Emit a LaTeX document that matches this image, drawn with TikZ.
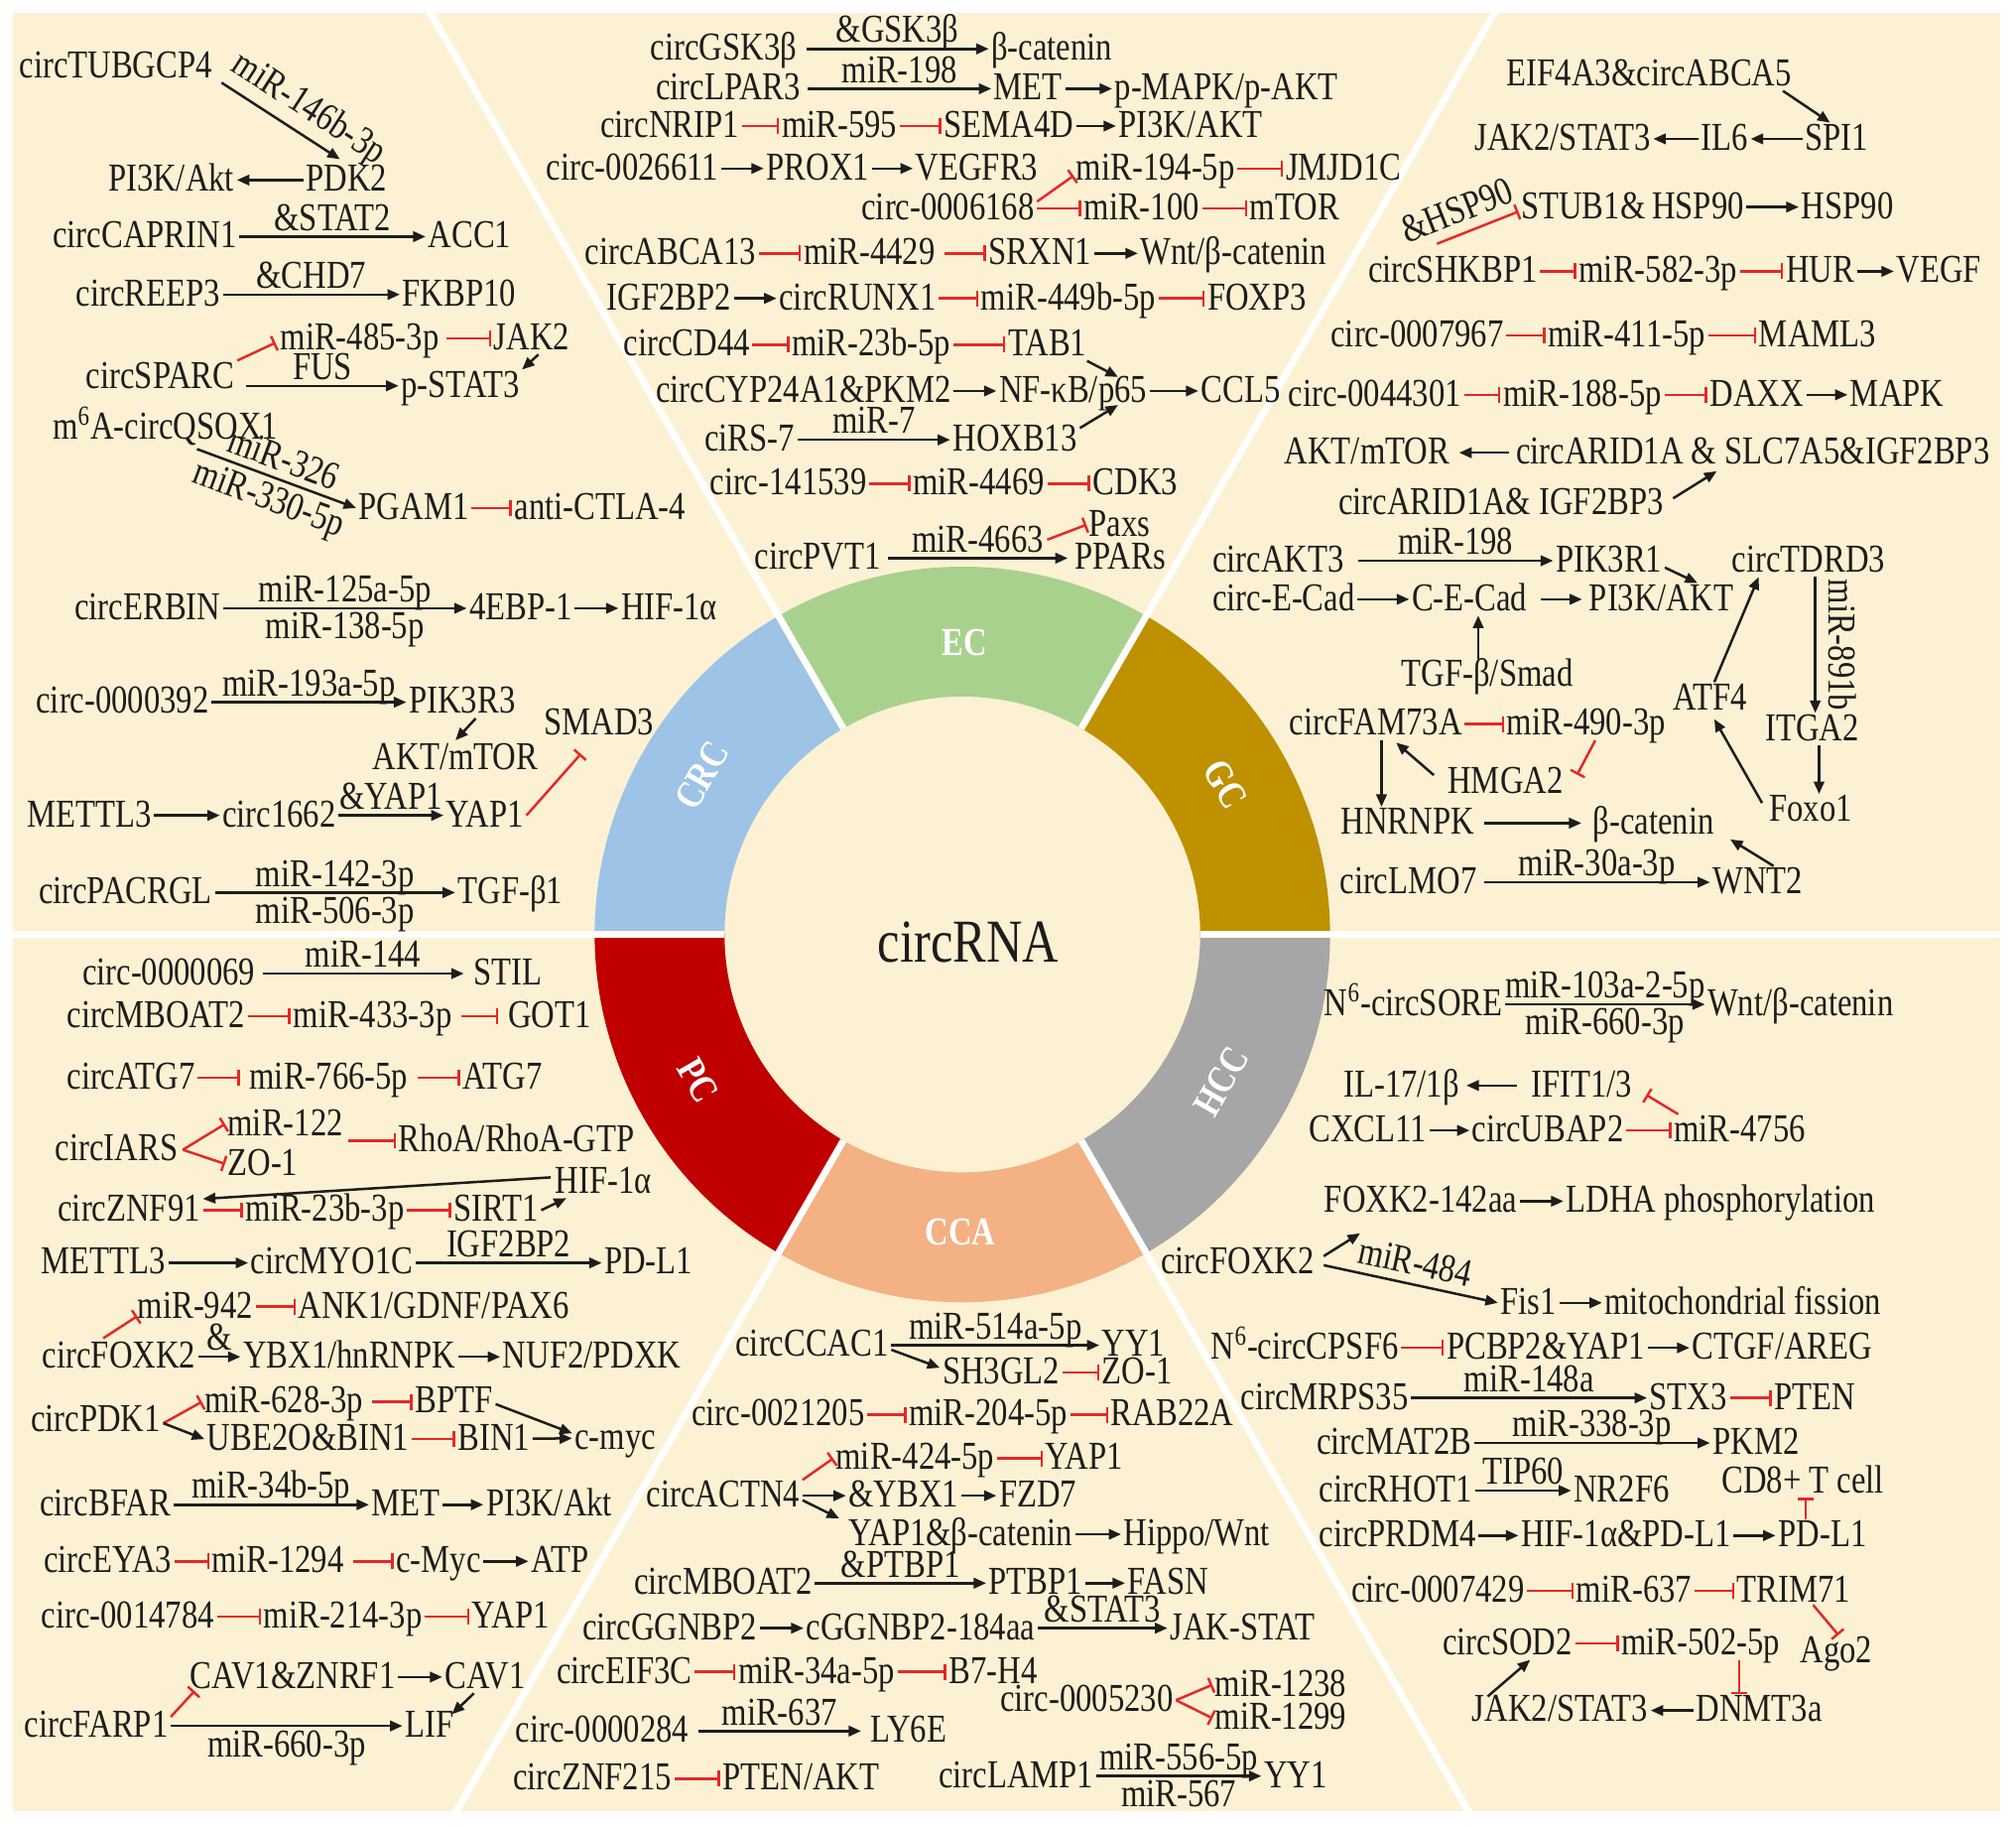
\documentclass[tikz,border=0pt]{standalone}
\usepackage{fontspec}
\setmainfont{Liberation Serif}[FakeStretch=0.82]
\usetikzlibrary{arrows.meta,calc}
\definecolor{cream}{RGB}{252,242,211}
\definecolor{crc}{RGB}{157,195,230}
\definecolor{ecg}{RGB}{169,209,142}
\definecolor{gcc}{RGB}{191,144,0}
\definecolor{hcc}{RGB}{166,166,166}
\definecolor{cca}{RGB}{244,177,131}
\definecolor{pcc}{RGB}{192,0,0}
\definecolor{inhred}{RGB}{230,40,40}
\definecolor{ink}{RGB}{30,28,28}
\newcommand{\fs}{\fontsize{17.5}{20}\selectfont}
\newcommand{\TN}[3]{\node[txt] (#1) at (#2) {#3};}
\begin{document}
\begin{tikzpicture}[x=0.02cm, y=-0.02cm,
  txt/.style={font=\fs, text=ink, anchor=west, inner xsep=1pt, inner ysep=0pt, text height=12pt, text depth=2pt},
  lab/.style={font=\fs, text=ink, inner xsep=1pt, inner ysep=1.2pt, text height=11.8pt, text depth=1pt},
  arw/.style={draw=ink, line width=1.1pt, -{Triangle[length=5.5pt,width=4.6pt]}},
  inhb/.style={draw=inhred, line width=1.1pt, -{Bar[width=7pt,line width=1.1pt]}},
  seg/.style={font=\fs\bfseries, text=white, inner sep=0pt}]
\useasboundingbox (0,0) rectangle (1568,1420);
\fill[white] (0,0) rectangle (1568,1420);
\fill[cream] (10,10) rectangle (1556,1408);
% ring
\begin{scope}[shift={(748.5,726.6)}, y=0.02cm]
  \foreach \a/\b/\c in {0/60/gcc, 60/120/ecg, 120/180/crc, 180/240/pcc, 240/300/cca, 300/360/hcc}
    \fill[\c] (\a:286) arc[start angle=\a, end angle=\b, radius=286] -- (\b:185) arc[start angle=\b, end angle=\a, radius=185] -- cycle;
  \foreach \a in {0,60,120,180,240,300}
    \draw[white, line width=3pt] (\a:185) -- (\a:1000);
\end{scope}
\node[seg, rotate=60] (tcrc) at (546,603) {CRC};
\node[seg] (tec) at (750,500) {EC};
\node[seg, rotate=-60] (tgc) at (953,610) {GC};
\node[seg, rotate=-60] (tpc) at (543,840) {PC};
\node[seg, rotate=60] (thcc) at (950,841) {HCC};
\node[seg] (tcca) at (747,958) {CCA};
\node[font=\fontsize{27}{30}\selectfont, text=ink, inner sep=0pt] (crna) at (753,733) {circRNA};

% ---------------- CRC ----------------
\TN{tub}{13,52}{circTUBGCP4}
\TN{pdk2}{236,140}{PDK2}
\TN{pi3ka}{82,140}{PI3K/Akt}
\draw[arw] ([xshift=3pt,yshift=-7pt]tub.east) -- node[lab,sloped,above=4pt,pos=0.62] (l1) {miR-146b-3p} ([xshift=-3pt,yshift=2pt]pdk2.north);
\draw[arw] (pdk2) -- (pi3ka);
\TN{capr}{39,184}{circCAPRIN1}
\TN{acc1}{331,184}{ACC1}
\draw[arw] (capr) -- node[lab,above] (l2) {\&STAT2} (acc1);
\TN{reep}{57,229}{circREEP3}
\TN{fkbp}{311,229}{FKBP10}
\draw[arw] (reep) -- node[lab,above] (l3) {\&CHD7} (fkbp);
\TN{m485}{216,263}{miR-485-3p}
\TN{jak2a}{382,263}{JAK2}
\draw[inhb] ([xshift=2pt]m485.east) -- (jak2a);
\TN{sparc}{65,293}{circSPARC}
\draw[inhb] (sparc.north east) -- ([xshift=-1pt,yshift=-2pt]m485.west);
\TN{pstat}{310,300}{p-STAT3}
\path ([xshift=4pt]sparc.east) coordinate (sp0);
\draw[arw] (sp0 |- pstat.west) -- node[lab,above] (l4) {FUS} (pstat);
\draw[arw] ([xshift=3pt]jak2a.south) -- (pstat.north east);
\TN{qsox}{39,333}{m\textsuperscript{6}A-circQSOX1}
\TN{pgam}{277,395}{PGAM1}
\TN{ctla}{398,395}{anti-CTLA-4}
\draw[arw] ([xshift=14pt,yshift=-2pt]qsox.south) -- node[lab,sloped,above=1pt] (l5) {miR-326} node[lab,sloped,below=1pt] (l6) {miR-330-5p} (pgam.west);
\draw[inhb] (pgam) -- (ctla);
\TN{erbin}{56,473}{circERBIN}
\TN{ebp}{363,473}{4EBP-1}
\TN{hif1}{481,473}{HIF-1α}
\draw[arw] (erbin) -- node[lab,above] (l7) {miR-125a-5p} node[lab,below] (l8) {miR-138-5p} (ebp);
\draw[arw] (ebp) -- (hif1);
\TN{c392}{26,546}{circ-0000392}
\TN{pik3r3}{316,546}{PIK3R3}
\draw[arw] (c392) -- node[lab,above] (l9) {miR-193a-5p} (pik3r3);
\TN{aktm}{288,590}{AKT/mTOR}
\draw[arw] ([xshift=6pt]pik3r3.south) -- ([yshift=1pt]aktm.north);
\TN{smad}{421,563}{SMAD3}
\TN{mett1}{19,634}{METTL3}
\TN{c1662}{171,634}{circ1662}
\TN{yap1a}{345,634}{YAP1}
\draw[arw] (mett1) -- (c1662);
\draw[arw] (c1662) -- node[lab,above] (l10) {\&YAP1} (yap1a);
\draw[inhb] (yap1a.east) -- ([xshift=-8pt,yshift=-6pt]smad.south);
\TN{pacr}{28,694}{circPACRGL}
\TN{tgfb1}{354,694}{TGF-β1}
\draw[arw] (pacr) -- node[lab,above] (l11) {miR-142-3p} node[lab,below] (l12) {miR-506-3p} (tgfb1);

% ---------------- EC ----------------
\TN{gsk}{504,38}{circGSK3β}
\TN{bcat1}{769,38}{β-catenin}
\draw[arw] ([xshift=3pt]gsk.east) -- node[lab,above] (l13) {\&GSK3β} (bcat1);
\TN{lpar}{508,69}{circLPAR3}
\TN{met1}{771,69}{MET}
\TN{pmapk}{865,69}{p-MAPK/p-AKT}
\draw[arw] ([xshift=2pt]lpar.east) -- node[lab,above] (l14) {miR-198} (met1);
\draw[arw] (met1) -- (pmapk);
\TN{nrip}{465,98}{circNRIP1}
\TN{m595}{606,98}{miR-595}
\TN{sema}{732,98}{SEMA4D}
\TN{pi3k1}{868,98}{PI3K/AKT}
\draw[inhb] (nrip) -- (m595);
\draw[inhb] (m595) -- (sema);
\draw[arw] (sema) -- (pi3k1);
\TN{c6611}{423,131}{circ-0026611}
\TN{prox}{594,131}{PROX1}
\TN{vegfr}{710,131}{VEGFR3}
\draw[arw] (c6611) -- (prox);
\draw[arw] (prox) -- (vegfr);
\TN{m194}{835,131}{miR-194-5p}
\TN{jmjd}{998,131}{JMJD1C}
\draw[inhb] (m194) -- (jmjd);
\TN{c6168}{668,162}{circ-0006168}
\TN{m100}{841,162}{miR-100}
\TN{mtor1}{970,162}{mTOR}
\draw[inhb] (c6168) -- (m100);
\draw[inhb] (m100) -- (mtor1);
\draw[inhb] ([yshift=3pt]c6168.east) -- ([yshift=4pt]m194.south west);
\TN{abca13}{453,197}{circABCA13}
\TN{m4429}{623,197}{miR-4429}
\TN{srxn}{767,197}{SRXN1}
\TN{wnt1}{885,197}{Wnt/β-catenin}
\draw[inhb] (abca13) -- (m4429);
\draw[inhb] ([xshift=3pt]m4429.east) -- (srxn);
\draw[arw] (srxn) -- (wnt1);
\TN{igf2}{470,232}{IGF2BP2}
\TN{runx}{604,232}{circRUNX1}
\TN{m449}{761,232}{miR-449b-5p}
\TN{foxp3}{937,232}{FOXP3}
\draw[arw] (igf2) -- (runx);
\draw[inhb] (runx) -- (m449);
\draw[inhb] (m449) -- (foxp3);
\TN{cd44}{483,268}{circCD44}
\TN{m23b5}{614,268}{miR-23b-5p}
\TN{tab1}{782,268}{TAB1}
\draw[inhb] (cd44) -- (m23b5);
\draw[inhb] (m23b5) -- (tab1);
\TN{cyp}{508,304}{circCYP24A1\&PKM2}
\TN{nfkb}{775,304}{NF-κB/p65}
\TN{ccl5}{932,304}{CCL5}
\draw[arw] (cyp) -- (nfkb);
\draw[arw] (nfkb) -- (ccl5);
\draw[arw] ([xshift=-1pt]tab1.south east) -- ([xshift=-14pt,yshift=-1pt]nfkb.north east);
\TN{cirs}{546,342}{ciRS-7}
\TN{hoxb}{739,342}{HOXB13}
\draw[arw] (cirs) -- node[lab,above] (l15) {miR-7} (hoxb);
\draw[arw] ([yshift=-2pt]hoxb.north east) -- ([xshift=-14pt,yshift=1pt]nfkb.south east);
\TN{c1415}{550,376}{circ-141539}
\TN{m4469}{708,376}{miR-4469}
\TN{cdk3}{848,376}{CDK3}
\draw[inhb] (c1415) -- (m4469);
\draw[inhb] (m4469) -- (cdk3);
\TN{pvt1}{585,434}{circPVT1}
\TN{ppar}{834,434}{PPARs}
\TN{paxs}{845,408}{Paxs}
\draw[arw] ([xshift=2pt]pvt1.east) -- node[lab,above] (l16) {miR-4663} ([xshift=-2pt]ppar.west);
\draw[inhb] (l16.east) -- (paxs.west);

% ---------------- GC ----------------
\TN{eif}{1170,58}{EIF4A3\&circABCA5}
\TN{jak2b}{1145,108}{JAK2/STAT3}
\TN{il6}{1321,108}{IL6}
\TN{spi1}{1402,108}{SPI1}
\draw[arw] ([xshift=-5pt]eif.south east) -- ([xshift=-3pt]spi1.north);
\draw[arw] (spi1) -- (il6);
\draw[arw] (il6) -- (jak2b);
\TN{stub}{1181,161}{STUB1\&\,HSP90}
\TN{hsp}{1399,161}{HSP90}
\draw[arw] (stub) -- (hsp);
\TN{shk}{1062,211}{circSHKBP1}
\TN{m582}{1226,211}{miR-582-3p}
\TN{hur}{1387,211}{HUR}
\TN{vegf}{1473,211}{VEGF}
\draw[inhb] (shk) -- (m582);
\draw[inhb] (m582) -- (hur);
\draw[arw] (hur) -- (vegf);
\draw[inhb] ([xshift=-7pt,yshift=5pt]shk.north) -- node[lab,sloped,above=2pt,pos=0.35] (l17) {\&HSP90} ([yshift=-2pt]stub.west);
\TN{c7967}{1033,261}{circ-0007967}
\TN{m411}{1202,261}{miR-411-5p}
\TN{maml}{1366,261}{MAML3}
\draw[inhb] (c7967) -- (m411);
\draw[inhb] (m411) -- (maml);
\TN{c4301}{1000,307}{circ-0044301}
\TN{m188}{1167,307}{miR-188-5p}
\TN{daxx}{1328,307}{DAXX}
\TN{mapk}{1437,307}{MAPK}
\draw[inhb] (c4301) -- (m188);
\draw[inhb] (m188) -- (daxx);
\draw[arw] (daxx) -- (mapk);
\TN{aktm2}{997,352}{AKT/mTOR}
\TN{arid}{1177,352}{circARID1A \& SLC7A5\&IGF2BP3}
\draw[arw] ([xshift=-2pt]arid.west) -- ([xshift=3pt]aktm2.east);
\TN{arid2}{1039,391}{circARID1A\& IGF2BP3}
\draw[arw] ([xshift=3pt,yshift=2pt]arid2.east) -- ([xshift=-16pt,yshift=-1pt]arid.south);
\TN{akt3}{941,436}{circAKT3}
\TN{pik3r1}{1208,436}{PIK3R1}
\draw[arw] ([xshift=5pt]akt3.east) -- node[lab,above] (l18) {miR-198} (pik3r1);
\TN{tdrd}{1345,436}{circTDRD3}
\TN{ecad}{941,466}{circ-E-Cad}
\TN{cecad}{1096,466}{C-E-Cad}
\TN{pi3k2}{1234,466}{PI3K/AKT}
\draw[arw] (ecad) -- (cecad);
\draw[arw] ([xshift=5pt]cecad.east) -- ([xshift=-2pt]pi3k2.west);
\draw[arw] ([yshift=-3pt]pik3r1.east) -- ([xshift=16pt]pi3k2.north);
\TN{tgfs}{1088,525}{TGF-β/Smad}
\path ([xshift=-4pt]tgfs.north) coordinate (tg0);
\draw[arw] (tg0) -- (tg0 |- cecad.south);
\TN{atf4}{1299,543}{ATF4}
\draw[arw] ([xshift=2pt]atf4.north) -- ([xshift=13pt]tdrd.south west);
\TN{itga}{1371,567}{ITGA2}
\path ([xshift=3pt]tdrd.south) coordinate (td0);
\draw[arw] (td0) -- node[lab, rotate=-90, anchor=south, yshift=3.5pt] (l19) {miR-891b} (td0 |- itga.north);
\TN{fam}{1001,563}{circFAM73A}
\TN{m490}{1170,563}{miR-490-3p}
\draw[inhb] (fam) -- (m490);
\TN{hmga}{1124,608}{HMGA2}
\draw[inhb] ([xshift=4pt]m490.south) -- ([xshift=5pt,yshift=-4pt]hmga.north east);
\draw[arw] ([xshift=-5pt,yshift=3pt]hmga.west) -- ([xshift=9pt,yshift=-1pt]fam.south);
\TN{hnrnpk}{1041,640}{HNRNPK}
\TN{bcat2}{1237,640}{β-catenin}
\path ([xshift=2.5pt]fam.south) coordinate (fm0);
\draw[arw] (fm0) -- (fm0 |- hnrnpk.north);
\draw[arw] ([xshift=3pt]hnrnpk.east) -- ([xshift=-4pt]bcat2.west);
\TN{foxo}{1374,630}{Foxo1}
\path ([xshift=3pt]itga.south) coordinate (it0);
\draw[arw] (it0) -- (it0 |- foxo.north);
\draw[arw] ([xshift=-2pt,yshift=-4pt]foxo.north west) -- ([xshift=2pt,yshift=-2pt]atf4.south);
\TN{lmo7}{1040,686}{circLMO7}
\TN{wnt2}{1330,686}{WNT2}
\draw[arw] ([xshift=2pt]lmo7.east) -- node[lab,above] (l20) {miR-30a-3p} (wnt2);
\draw[arw] ([xshift=7pt]wnt2.north) -- ([xshift=6pt]bcat2.south east);

% ---------------- HCC ----------------
\TN{sore}{1028,781}{N\textsuperscript{6}-circSORE}
\TN{wnt3}{1326,781}{Wnt/β-catenin}
\draw[arw] (sore) -- node[lab,above] (l21) {miR-103a-2-5p} node[lab,below] (l22) {miR-660-3p} (wnt3);
\TN{il17}{1043,844}{IL-17/1β}
\TN{ifit}{1189,844}{IFIT1/3}
\draw[arw] ([xshift=-5pt]ifit.west) -- ([xshift=2pt]il17.east);
\TN{cxcl}{1016,879}{CXCL11}
\TN{ubap}{1143,879}{circUBAP2}
\TN{m4756}{1300,879}{miR-4756}
\draw[arw] (cxcl) -- (ubap);
\draw[inhb] (ubap) -- (m4756);
\draw[inhb] ([xshift=3pt]m4756.north west) -- ([xshift=5pt,yshift=3pt]ifit.south east);
\TN{fk142}{1028,934}{FOXK2-142aa}
\TN{ldha}{1216,934}{LDHA phosphorylation}
\draw[arw] (fk142) -- (ldha);
\TN{cfoxk2}{901,982}{circFOXK2}
\draw[arw] ([xshift=3pt,yshift=3pt]cfoxk2.east) -- ([xshift=17pt,yshift=-7pt]fk142.south west);
\TN{fis1}{1165,1013}{Fis1}
\TN{mito}{1246,1013}{mitochondrial fission}
\draw[arw] ([xshift=3pt,yshift=-1pt]cfoxk2.east) -- node[lab,sloped,above=1.5pt] (l23) {miR-484} (fis1.west);
\draw[arw] (fis1) -- (mito);
\TN{cpsf}{940,1048}{N\textsuperscript{6}-circCPSF6}
\TN{pcbp}{1123,1048}{PCBP2\&YAP1}
\TN{ctgf}{1314,1048}{CTGF/AREG}
\draw[inhb] (cpsf) -- (pcbp);
\draw[arw] (pcbp) -- (ctgf);
\TN{mrps}{963,1087}{circMRPS35}
\TN{stx3}{1281,1087}{STX3}
\TN{pten1}{1378,1087}{PTEN}
\draw[arw] (mrps) -- node[lab,above] (l24) {miR-148a} (stx3);
\draw[inhb] (stx3) -- (pten1);
\TN{mat2b}{1022,1122}{circMAT2B}
\TN{pkm2}{1330,1122}{PKM2}
\draw[arw] (mat2b) -- node[lab,above] (l25) {miR-338-3p} (pkm2);
\TN{rhot}{1024,1159}{circRHOT1}
\TN{nr2f6}{1222,1159}{NR2F6}
\draw[arw] (rhot) -- node[lab,above] (l26) {TIP60} (nr2f6);
\TN{cd8}{1337,1152}{CD8+ T cell}
\TN{prdm}{1024,1194}{circPRDM4}
\TN{hifpd}{1181,1194}{HIF-1α\&PD-L1}
\TN{pdl1a}{1381,1194}{PD-L1}
\draw[arw] (prdm) -- (hifpd);
\draw[arw] (hifpd) -- (pdl1a);
\path ([xshift=-7.5pt]pdl1a.north) coordinate (pd0);
\draw[inhb] (pd0) -- (pd0 |- cd8.south);
\TN{c7429}{1049,1237}{circ-0007429}
\TN{m637b}{1224,1237}{miR-637}
\TN{trim}{1349,1237}{TRIM71}
\draw[inhb] (c7429) -- (m637b);
\draw[inhb] (m637b) -- (trim);
\TN{ago2}{1398,1284}{Ago2}
\draw[inhb] ([xshift=8.5pt,yshift=1pt]trim.south) -- ([xshift=1pt]ago2.north);
\TN{sod2}{1120,1278}{circSOD2}
\TN{m502}{1259,1278}{miR-502-5p}
\draw[inhb] (sod2) -- (m502);
\TN{jak2c}{1143,1330}{JAK2/STAT3}
\TN{dnmt}{1317,1330}{DNMT3a}
\draw[arw] (dnmt) -- (jak2c);
\path ([xshift=17pt]m502.south) coordinate (m50);
\draw[inhb] (m50) -- (m50 |- dnmt.north);
\draw[arw] ([xshift=8pt,yshift=-1pt]jak2c.north west) -- ([xshift=10pt]sod2.south);

% ---------------- CCA ----------------
\TN{ccac}{570,1046}{circCCAC1}
\TN{yy1a}{855,1046}{YY1}
\draw[arw] (ccac) -- node[lab,above] (l27) {miR-514a-5p} (yy1a);
\TN{sh3}{731,1067}{SH3GL2}
\TN{zo1a}{855,1067}{ZO-1}
\draw[inhb] (sh3) -- (zo1a);
\draw[arw] ([yshift=-2pt]ccac.east) -- ([yshift=2pt]sh3.west);
\TN{c1205}{536,1100}{circ-0021205}
\TN{m204}{705,1100}{miR-204-5p}
\TN{rab}{862,1100}{RAB22A}
\draw[inhb] (c1205) -- (m204);
\draw[inhb] (m204) -- (rab);
\TN{m424}{648,1134}{miR-424-5p}
\TN{yap1b}{811,1134}{YAP1}
\draw[inhb] (m424) -- (yap1b);
\TN{actn}{501,1163}{circACTN4}
\TN{ybx}{658,1163}{\&YBX1}
\TN{fzd}{775,1163}{FZD7}
\draw[arw] (actn) -- (ybx);
\draw[arw] (ybx) -- (fzd);
\draw[inhb] ([yshift=7pt]actn.east) -- (m424.west);
\TN{yapbc}{658,1193}{YAP1\&β-catenin}
\TN{hippo}{872,1193}{Hippo/Wnt}
\draw[arw] ([yshift=-2pt]actn.east) -- ([xshift=-3pt,yshift=7pt]yapbc.west);
\draw[arw] (yapbc) -- (hippo);
\TN{mboat2b}{491,1231}{circMBOAT2}
\TN{ptbp}{767,1231}{PTBP1}
\TN{fasn}{875,1231}{FASN}
\draw[arw] (mboat2b) -- node[lab,above] (l28) {\&PTBP1} (ptbp);
\draw[arw] (ptbp) -- (fasn);
\TN{ggn}{451,1266}{circGGNBP2}
\TN{cggn}{625,1266}{cGGNBP2-184aa}
\TN{jakstat}{908,1266}{JAK-STAT}
\draw[arw] (ggn) -- (cggn);
\draw[arw] (cggn) -- node[lab,above] (l29) {\&STAT3} (jakstat);
\TN{eif3c}{431,1300}{circEIF3C}
\TN{m34a}{572,1300}{miR-34a-5p}
\TN{b7h4}{736,1300}{B7-H4}
\draw[inhb] (eif3c) -- (m34a);
\draw[inhb] (m34a) -- (b7h4);
\TN{c5230}{776,1322}{circ-0005230}
\TN{m1238}{943,1310}{miR-1238}
\TN{m1299}{943,1336}{miR-1299}
\draw[inhb] (c5230.east) -- (m1238.west);
\draw[inhb] (c5230.east) -- (m1299.west);
\TN{c0284}{399,1346}{circ-0000284}
\TN{ly6e}{675,1346}{LY6E}
\draw[arw] ([xshift=3pt]c0284.east) -- node[lab,above] (l30) {miR-637} ([xshift=-3pt]ly6e.west);
\TN{znf215}{397,1383}{circZNF215}
\TN{ptenakt}{560,1383}{PTEN/AKT}
\draw[inhb] (znf215) -- (ptenakt);
\TN{lamp}{728,1381}{circLAMP1}
\TN{yy1b}{981,1381}{YY1}
\draw[arw] (lamp) -- node[lab,above] (l31) {miR-556-5p} node[lab,below] (l32) {miR-567} (yy1b);

% ---------------- PC ----------------
\TN{c0069}{62,757}{circ-0000069}
\TN{stil}{366,757}{STIL}
\draw[arw] ([xshift=2pt]c0069.east) -- node[lab,above] (l33) {miR-144} ([xshift=-3pt]stil.west);
\TN{mboat2a}{50,790}{circMBOAT2}
\TN{m433}{226,790}{miR-433-3p}
\TN{got1}{393,790}{GOT1}
\draw[inhb] (mboat2a) -- (m433);
\draw[inhb] ([xshift=3pt]m433.east) -- ([xshift=-3pt]got1.west);
\TN{atg7c}{50,838}{circATG7}
\TN{m766}{192,838}{miR-766-5p}
\TN{atg7}{358,838}{ATG7}
\draw[inhb] (atg7c) -- ([xshift=-3pt]m766.west);
\draw[inhb] ([xshift=3pt]m766.east) -- (atg7);
\TN{iars}{41,894}{circIARS}
\TN{m122}{175,874}{miR-122}
\TN{zo1b}{175,905}{ZO-1}
\TN{rhoa}{308,887}{RhoA/RhoA-GTP}
\draw[inhb] ([xshift=1pt]iars.east) -- (m122.west);
\draw[inhb] ([xshift=1pt]iars.east) -- (zo1b.west);
\path ([xshift=1pt]m122.east) coordinate (mz);
\draw[inhb] (mz |- rhoa.west) -- (rhoa);
\TN{hif1b}{430,919}{HIF-1α}
\TN{znf91}{43,941}{circZNF91}
\TN{m23b3}{189,941}{miR-23b-3p}
\TN{sirt}{351,941}{SIRT1}
\draw[arw] ([xshift=-1pt,yshift=2pt]hif1b.west) -- ([yshift=5pt]znf91.east);
\draw[inhb] (znf91) -- (m23b3);
\draw[inhb] (m23b3) -- (sirt);
\draw[arw] (sirt.east) -- ([xshift=6pt]hif1b.south west);
\TN{mett2}{30,982}{METTL3}
\TN{myo}{193,982}{circMYO1C}
\TN{pdl1b}{468,982}{PD-L1}
\draw[arw] (mett2) -- (myo);
\draw[arw] (myo) -- node[lab,above] (l34) {IGF2BP2} (pdl1b);
\TN{m942}{105,1016}{miR-942}
\TN{ank}{230,1016}{ANK1/GDNF/PAX6}
\draw[inhb] (m942) -- (ank);
\TN{cfox2b}{31,1055}{circFOXK2}
\TN{ybx2}{187,1055}{YBX1/hnRNPK}
\TN{nuf}{389,1055}{NUF2/PDXK}
\draw[inhb] ([xshift=-7pt,yshift=1pt]cfox2b.north) -- ([xshift=1pt,yshift=3pt]m942.south west);
\draw[arw] (cfox2b) -- node[lab,above] (l35) {\&} (ybx2);
\draw[arw] (ybx2) -- (nuf);
\TN{pdk1}{22,1104}{circPDK1}
\TN{m628}{157,1090}{miR-628-3p}
\TN{bptf}{321,1090}{BPTF}
\TN{ube}{159,1119}{UBE2O\&BIN1}
\TN{bin1}{354,1119}{BIN1}
\TN{cmyc}{445,1118}{c-myc}
\draw[inhb] ([yshift=-1.5pt]pdk1.east) -- (m628.west);
\draw[arw] ([yshift=-1.5pt]pdk1.east) -- (ube.west);
\draw[inhb] ([xshift=3pt]m628.east) -- (bptf);
\draw[inhb] (ube) -- (bin1);
\draw[arw] (bin1) -- (cmyc);
\draw[arw] ([yshift=-1pt]bptf.east) -- ([yshift=2pt]cmyc.west);
\TN{bfar}{29,1170}{circBFAR}
\TN{met2}{287,1170}{MET}
\TN{pi3kb}{376,1170}{PI3K/Akt}
\draw[arw] (bfar) -- node[lab,above] (l36) {miR-34b-5p} (met2);
\draw[arw] (met2) -- (pi3kb);
\TN{eya}{32,1214}{circEYA3}
\TN{m1294}{163,1214}{miR-1294}
\TN{cmyc2}{306,1214}{c-Myc}
\TN{atp}{411,1214}{ATP}
\draw[inhb] (eya) -- (m1294);
\draw[inhb] ([xshift=3pt]m1294.east) -- (cmyc2);
\draw[arw] (cmyc2) -- (atp);
\TN{c4784}{30,1257}{circ-0014784}
\TN{m214}{203,1257}{miR-214-3p}
\TN{yap1c}{365,1257}{YAP1}
\draw[inhb] (c4784) -- (m214);
\draw[inhb] (m214) -- (yap1c);
\TN{cav}{146,1304}{CAV1\&ZNRF1}
\TN{cav1}{344,1304}{CAV1}
\draw[arw] (cav) -- (cav1);
\TN{farp}{17,1342}{circFARP1}
\TN{lif}{313,1342}{LIF}
\draw[inhb] ([yshift=4pt]farp.east) -- ([xshift=3pt,yshift=1pt]cav.south west);
\draw[arw] (farp) -- node[lab,below] (l37) {miR-660-3p} (lif);
\draw[arw] ([xshift=-5pt]cav1.south) -- ([xshift=-2pt,yshift=-2pt]lif.north east);
\end{tikzpicture}
\end{document}
